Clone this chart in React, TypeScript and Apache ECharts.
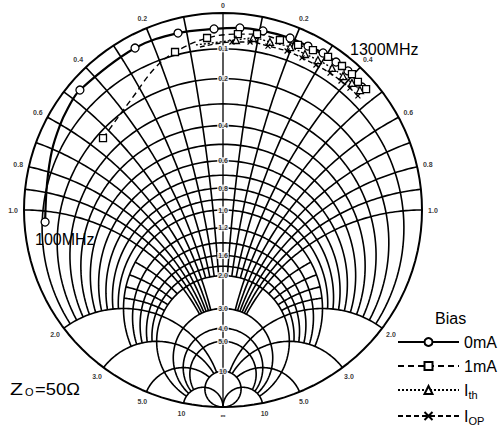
import React, { useEffect, useRef } from 'react';
import * as echarts from 'echarts';

// ---- Smith chart grid definition ----
// resistance circles: [r, |x| limit]
const R_CIRCLES: [number, number][] = [
  [0.1, 2], [0.2, 2], [0.3, 2], [0.4, 2], [0.5, 2], [0.6, 2], [0.7, 2], [0.8, 2], [0.9, 2],
  [1.0, 3], [1.2, 3], [1.4, 3], [1.6, 3], [1.8, 3],
  [2.0, 10], [3.0, 10], [4.0, 10], [5.0, 10], [10, Infinity],
];
// reactance arcs: [x, r start, r end]
const X_ARCS: [number, number, number][] = [
  [0.1, 0, 2], [0.2, 0, 2], [0.3, 0, 2], [0.4, 0, 2],
  [0.5, 0, 3], [0.6, 0, 3], [0.7, 0, 3], [0.8, 0, 3], [0.9, 0, 3], [1.0, 0, 3],
  [1.2, 1, 2], [1.4, 1, 2], [1.6, 1, 2], [1.8, 1, 2],
  [2, 0, 10], [3, 0, 10], [5, 0, 10], [10, 0, Infinity],
];
const R_LABELS = ['0.1', '0.2', '0.4', '0.6', '0.8', '1.0', '1.2', '1.6', '2.0', '3.0', '4.0', '5.0', '10'];
const X_LABELS = ['0.2', '0.4', '0.6', '0.8', '1.0', '2.0', '3.0', '5.0', '10'];

// ---- measured S11 (reflection coefficient re, im), read from the picture ----
// third value: 1 = marker drawn, 0 = curve point only
const BIAS_0MA: [number, number, number][] = [
  [0.061, 0.894, 1], [-0.137, 0.884, 0], [-0.305, 0.859, 0], [-0.431, 0.819, 0], [-0.508, 0.784, 0],
  [-0.609, 0.719, 1], [-0.822, 0.442, 1], [-0.898, 0.226, 1], [-0.919, 0.045, 1], [-0.924, -0.085, 1],
  [-0.909, -0.201, 1], [-0.873, -0.337, 1], [-0.832, -0.427, 1], [-0.797, -0.503, 1], [-0.751, -0.568, 1],
  [-0.706, -0.628, 1], [-0.624, -0.698, 1],
];
const BIAS_1MA: [number, number, number][] = [
  [-0.365, 0.603, 1], [-0.574, 0.452, 0], [-0.721, 0.342, 0], [-0.802, 0.241, 1], [-0.873, 0.080, 1],
  [-0.893, -0.075, 1], [-0.893, -0.171, 1], [-0.863, -0.286, 1], [-0.838, -0.377, 1], [-0.812, -0.452, 1],
  [-0.777, -0.528, 1], [-0.731, -0.598, 1], [-0.690, -0.648, 1], [-0.650, -0.678, 1], [-0.614, -0.719, 1],
];
const BIAS_ITH: [number, number, number][] = [
  [-0.838, 0.136, 0], [-0.863, -0.065, 1], [-0.873, -0.151, 1], [-0.853, -0.236, 1], [-0.827, -0.337, 1],
  [-0.792, -0.412, 1], [-0.761, -0.477, 1], [-0.721, -0.548, 1], [-0.680, -0.603, 1], [-0.645, -0.648, 1],
  [-0.609, -0.688, 1],
];
const BIAS_IOP: [number, number, number][] = [
  [-0.827, 0.116, 0], [-0.853, -0.045, 1], [-0.853, -0.136, 1], [-0.832, -0.226, 1], [-0.807, -0.322, 1],
  [-0.772, -0.397, 1], [-0.736, -0.467, 1], [-0.695, -0.538, 1], [-0.655, -0.593, 1], [-0.619, -0.638, 1],
  [-0.579, -0.678, 1],
];

const FONT = '"Liberation Sans", Arial, sans-serif';

function gamma(r: number, x: number): [number, number] {
  const d = (r + 1) * (r + 1) + x * x;
  return [(r * r - 1 + x * x) / d, (2 * x) / d];
}
// rotated chart: Γ=-1 at top, Γ=+1 (∞) at bottom, +jx on the left
const toUV = (re: number, im: number): [number, number] => [-im, -re];

function rCircle(r: number, xLim: number): [number, number][] {
  const c = r / (1 + r);
  const rho = 1 / (1 + r);
  let phi = 0;
  if (isFinite(xLim)) {
    const g = gamma(r, xLim);
    phi = Math.atan2(g[1], g[0] - c);
  }
  const pts: [number, number][] = [];
  const N = 120;
  for (let i = 0; i <= N; i++) {
    const t = phi + ((2 * Math.PI - 2 * phi) * i) / N;
    pts.push(toUV(c + rho * Math.cos(t), rho * Math.sin(t)));
  }
  return pts;
}

function xArc(x: number, r1: number, r2: number): [number, number][] {
  const cy = 1 / x;
  const rho = Math.abs(1 / x);
  const g1 = gamma(r1, x);
  const g2 = isFinite(r2) ? gamma(r2, x) : [1, 0];
  const a1 = Math.atan2(g1[1] - cy, g1[0] - 1);
  let a2 = Math.atan2(g2[1] - cy, g2[0] - 1);
  while (a2 - a1 > Math.PI) a2 -= 2 * Math.PI;
  while (a1 - a2 > Math.PI) a2 += 2 * Math.PI;
  const pts: [number, number][] = [];
  const N = 80;
  for (let i = 0; i <= N; i++) {
    const a = a1 + ((a2 - a1) * i) / N;
    pts.push(toUV(1 + rho * Math.cos(a), cy + rho * Math.sin(a)));
  }
  return pts;
}

function gridLine(data: [number, number][], width = 1.6): any {
  return {
    type: 'line',
    data,
    symbol: 'none',
    showSymbol: false,
    silent: true,
    clip: false,
    z: 1,
    lineStyle: { color: '#000', width },
    legendHoverLink: false,
  };
}

function dataSeries(name: string, pts: [number, number, number][], symbol: string, size: number, line: any): any {
  const isPath = symbol.startsWith('path');
  return {
    type: 'line',
    name,
    smooth: 0.35,
    symbol,
    symbolSize: size,
    showSymbol: true,
    clip: false,
    z: 5,
    lineStyle: line,
    itemStyle: { color: isPath ? 'rgba(0,0,0,0)' : '#fff', borderColor: '#000', borderWidth: isPath ? 1.2 : 1.3 },
    data: pts.map((p) => ({ value: toUV(p[0], p[1]), symbol: p[2] ? symbol : 'none' })),
  };
}

export default function App() {
  const ref = useRef<HTMLDivElement>(null);
  useEffect(() => {
    if (!ref.current) return;
    const chart = echarts.init(ref.current, undefined, { renderer: 'svg' });
    const series: any[] = [];
    // outer circle and real axis
    series.push(gridLine(rCircle(0, Infinity), 2));
    series.push(gridLine([[0, 1], [0, -1]], 1.3));
    R_CIRCLES.forEach(([r, lim]) => series.push(gridLine(rCircle(r, lim))));
    X_ARCS.forEach(([x, r1, r2]) => {
      series.push(gridLine(xArc(x, r1, r2)));
      series.push(gridLine(xArc(-x, r1, r2)));
    });

    // outer (reactance) labels
    const outer: any[] = [];
    X_LABELS.forEach((t) => {
      const x = parseFloat(t);
      const g = gamma(0, x);
      const k = 1.055;
      outer.push({ name: t, value: toUV(g[0] * k, g[1] * k) });
      outer.push({ name: t, value: toUV(g[0] * k, -g[1] * k) });
    });
    outer.push({ name: '0', value: toUV(-1.04, 0) });
    outer.push({ name: '∞', value: toUV(1.045, 0) });
    const lbl = {
      show: true, position: 'inside', formatter: '{b}', fontSize: 7, fontWeight: 'bold', color: '#000',
      fontFamily: FONT, textBorderWidth: 0, textBorderColor: 'transparent', textShadowBlur: 0,
    };
    series.push({
      type: 'scatter',
      data: outer,
      symbolSize: 1,
      clip: false,
      silent: true,
      z: 6,
      itemStyle: { color: 'rgba(0,0,0,0)' },
      label: lbl,
    });
    // axis (resistance) labels
    series.push({
      type: 'scatter',
      data: R_LABELS.map((t) => {
        const r = parseFloat(t);
        return { name: t, value: toUV((r - 1) / (r + 1), 0) };
      }),
      symbolSize: 1,
      clip: false,
      silent: true,
      z: 6,
      itemStyle: { color: 'rgba(0,0,0,0)' },
      label: { ...lbl, backgroundColor: '#fff', padding: [0, 1] },
    });

    series.push(dataSeries('0mA', BIAS_0MA, 'circle', 8, { color: '#000', width: 2.2, type: 'solid' }));
    series.push(dataSeries('1mA', BIAS_1MA, 'rect', 7, { color: '#000', width: 1.4, type: [6, 4] }));
    series.push(dataSeries('Ith', BIAS_ITH, 'triangle', 7, { color: '#000', width: 1.4, type: [2, 2] }));
    series.push(dataSeries('IOP', BIAS_IOP, 'path://M0 0L10 10M10 0L0 10', 5, { color: '#000', width: 1.4, type: [5, 3] }));

    chart.setOption({
      animation: false,
      grid: { left: 24, top: 13, width: 398, height: 394 },
      xAxis: { type: 'value', min: -1, max: 1, show: false },
      yAxis: { type: 'value', min: -1, max: 1, show: false },
      legend: {
        data: ['0mA', '1mA', 'Ith', 'IOP'],
        orient: 'vertical',
        left: 397,
        top: 334,
        height: 120,
        padding: 0,
        itemWidth: 61,
        itemHeight: 10,
        itemGap: 8,
        selectedMode: false,
        textStyle: {
          color: '#000',
          fontSize: 16,
          fontFamily: FONT,
          rich: {
            m: { fontSize: 16, lineHeight: 20, fontFamily: FONT, color: '#000' },
            s: { fontSize: 11, lineHeight: 12, verticalAlign: 'bottom', fontFamily: FONT, color: '#000' },
          },
        },
        formatter: (n: string) => (n === 'Ith' ? '{m|I}{s|th}' : n === 'IOP' ? '{m|I}{s|OP}' : '{m|' + n + '}'),
      },
      graphic: [
        { type: 'text', x: 35, y: 239, style: { text: '100MHz', fontSize: 16, fontFamily: FONT, fill: '#000', verticalAlign: 'middle' } },
        { type: 'text', x: 350, y: 49, style: { text: '1300MHz', fontSize: 16, fontFamily: FONT, fill: '#000', verticalAlign: 'middle' } },
        { type: 'text', x: 435, y: 318, style: { text: 'Bias', fontSize: 16, fontFamily: FONT, fill: '#000', verticalAlign: 'middle' } },
        { type: 'text', x: 10, y: 389, scaleX: 1.25, style: { text: 'Z', fontSize: 17, fontFamily: FONT, fill: '#000', verticalAlign: 'middle' } },
        { type: 'text', x: 25, y: 392, style: { text: 'O', fontSize: 11, fontFamily: FONT, fill: '#000', verticalAlign: 'middle' } },
        { type: 'text', x: 35, y: 389, scaleX: 1.08, style: { text: '=50Ω', fontSize: 17, fontFamily: FONT, fill: '#000', verticalAlign: 'middle' } },
      ],
      series,
    });
    return () => chart.dispose();
  }, []);
  return <div ref={ref} style={{ position: 'fixed', left: 0, top: 0, width: 500, height: 427, background: '#fff' }} />;
}
